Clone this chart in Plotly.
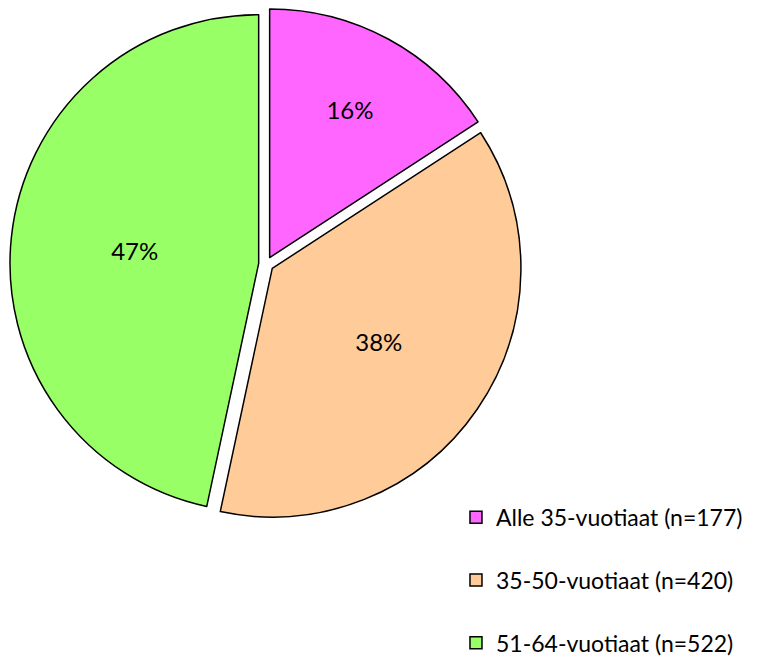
import plotly.graph_objects as go

# age groups and respondent counts
labels = ['Alle 35-vuotiaat (n=177)', '35-50-vuotiaat (n=420)', '51-64-vuotiaat (n=522)']
counts = [177, 420, 522]
colors = ['#FF66FF', '#FFCC99', '#99FF66']

FONT = 'Lato, "Open Sans", Arial, sans-serif'

# extra blank line per legend entry to give the roomy spacing of the original
legend_labels = [l + '<br> ' for l in labels]

fig = go.Figure(go.Pie(
    labels=legend_labels,
    values=counts,
    sort=False,
    direction='clockwise',
    rotation=0,
    pull=[0.03, 0.03, 0.03],
    marker=dict(colors=colors, line=dict(color='#000000', width=1.5)),
    texttemplate='%{percent:.0%}',
    textposition='inside',
    insidetextorientation='horizontal',
    textfont=dict(size=24, color='#000000', family=FONT),
    domain=dict(x=[0.002, 0.679], y=[0.225, 1.0]),
    hovertemplate='%{label}<br>%{value} (%{percent:.0%})<extra></extra>',
))

fig.update_layout(
    width=758, height=661,
    margin=dict(l=0, r=0, t=0, b=0, autoexpand=False),
    paper_bgcolor='#FFFFFF',
    plot_bgcolor='#FFFFFF',
    font=dict(family=FONT, size=23, color='#000000'),
    legend=dict(
        x=0.591, y=0.262, xanchor='left', yanchor='top',
        valign='top', itemwidth=30,
        font=dict(size=23, color='#000000', family=FONT),
        bgcolor='rgba(0,0,0,0)',
    ),
)

fig.write_html("out.html")
